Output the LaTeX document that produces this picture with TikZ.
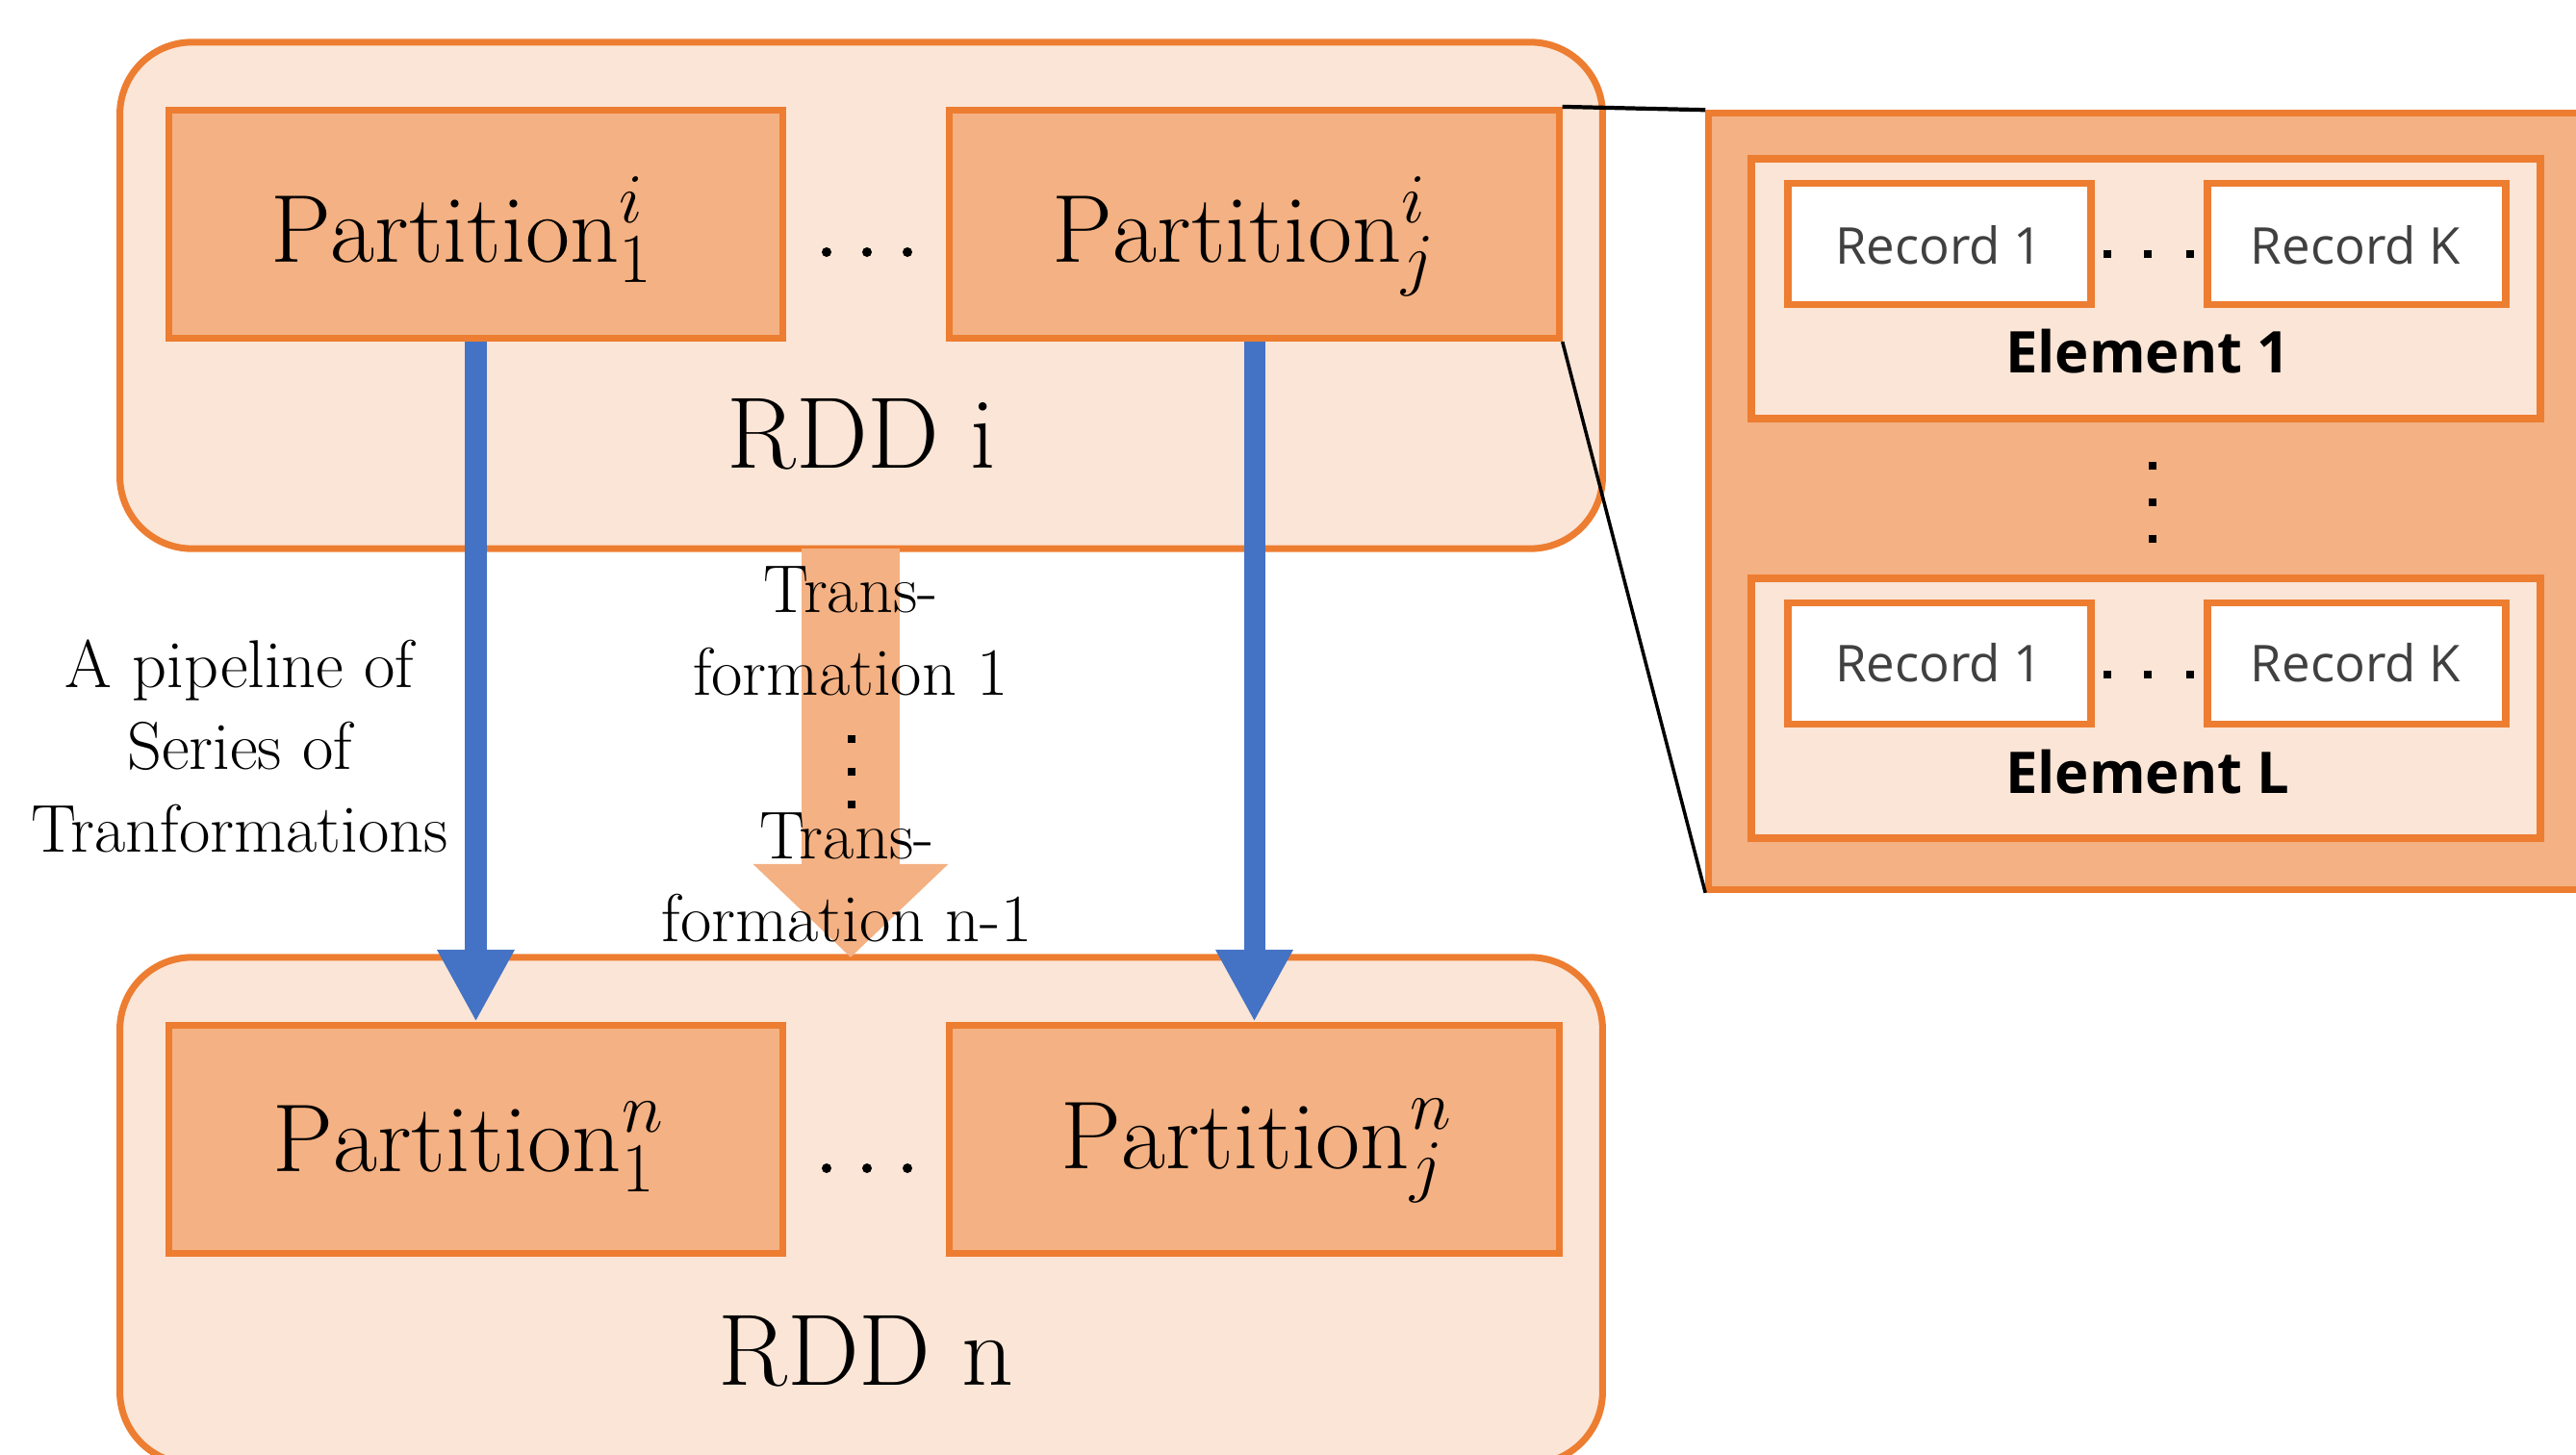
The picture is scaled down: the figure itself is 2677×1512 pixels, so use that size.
\documentclass[tikz,border=0pt]{standalone}
\usepackage{fontspec}
\newfontfamily\recfont{Open Sans}
\usetikzlibrary{arrows.meta}
\definecolor{olight}{HTML}{FBE5D6}
\definecolor{omed}{HTML}{F4B183}
\definecolor{oline}{HTML}{ED7D31}
\definecolor{blu}{HTML}{4472C4}
\definecolor{txtgray}{HTML}{404040}
\begin{document}
\begin{tikzpicture}[x=0.01cm,y=-0.01cm,
  rddbox/.style={draw=oline, fill=olight, line width=2pt, rounded corners=0.75cm, inner sep=0pt, minimum width=15.40cm, minimum height=5.26cm},
  partbox/.style={draw=oline, fill=omed, line width=2pt, inner sep=0pt, minimum height=2.37cm},
  panelbox/.style={draw=oline, fill=omed, line width=2pt, inner sep=0pt},
  elembox/.style={draw=oline, fill=olight, line width=2.2pt, inner sep=0pt, minimum width=8.2cm, minimum height=2.7cm},
  recbox/.style={draw=oline, fill=white, line width=2.2pt, inner sep=0pt, minimum height=1.26cm},
  ptext/.style={anchor=base, inner sep=0pt, font=\fontsize{28.5}{33}\selectfont},
  rddtext/.style={anchor=base, inner sep=0pt, font=\fontsize{30}{35}\selectfont},
  serlabel/.style={anchor=base, inner sep=0pt, align=center, font=\fontsize{20}{24.2}\selectfont},
  rectext/.style={anchor=base, inner sep=0pt, text=txtgray, font=\recfont\fontsize{15}{18}\selectfont},
  eltext/.style={anchor=base, inner sep=0pt, font=\recfont\bfseries\fontsize{17}{20}\selectfont},
  bluarrow/.style={blu, line width=0.22cm, -{Triangle[length=0.75cm,width=0.75cm]}},
  bigarrow/.style={omed, line width=1.01cm, -{Triangle[length=0.97cm,width=1.97cm]}},
  linkline/.style={black, line width=1.2pt}
]
\useasboundingbox (0,0) rectangle (2677,1512);

% RDD containers
\node[rddbox] (rddi) at (895,307) {};
\node[rddbox] (rddn) at (895,1258) {};

% partitions
\node[partbox, minimum width=6.37cm] (p1i) at (494.5,233) {};
\node[partbox, minimum width=6.33cm] (pji) at (1303.5,233) {};
\node[partbox, minimum width=6.37cm] (p1n) at (494.5,1184) {};
\node[partbox, minimum width=6.33cm] (pjn) at (1303.5,1184) {};

% right panel
\node[panelbox, minimum width=9.4cm, minimum height=8.06cm] (outer) at (2246,521) {};
\node[elembox] (el1) at (2230,300) {};
\node[elembox] (elL) at (2230,736) {};
\node[recbox, minimum width=3.15cm] (r11) at (2015.5,253.5) {};
\node[recbox, minimum width=3.10cm] (r1k) at (2449,253.5) {};
\node[recbox, minimum width=3.15cm] (rl1) at (2015.5,689.5) {};
\node[recbox, minimum width=3.10cm] (rlk) at (2449,689.5) {};

% link lines
\draw[linkline] (pji.north east) -- (outer.north west);
\draw[linkline, line width=1pt] (pji.south east) -- (outer.south west);

% transformation arrow
\coordinate (ta) at (884,570);
\coordinate (tb) at (884,995);
\draw[bigarrow] (ta) -- (tb);

% texts
\node[ptext] (t1i) at (480,272) {$\mathrm{Partition}_1^i$};
\node[ptext] (tji) at (1293,272) {$\mathrm{Partition}_j^i$};
\node[ptext] (t1n) at (487,1217) {$\mathrm{Partition}_1^n$};
\node[ptext] (tjn) at (1306,1214) {$\mathrm{Partition}_j^n$};
\foreach \xx in {859,901,943} {
  \fill (\xx,262) circle (5);
  \fill (\xx,1214) circle (5);
}
\node[rddtext] (lrddi) at (895,486) {RDD i};
\node[rddtext] (lrddn) at (900,1439) {RDD n};

\node[serlabel] (pipe) at (249,885) {A pipeline of\\Series of\\Tranformations};
\node[serlabel] (tr1) at (884,722) {Trans-\\formation 1};
\node[serlabel] (trn) at (880,978) {Trans-\\formation n-1};
\foreach \yy in {768,802,836} \fill (881,\yy-4) rectangle (889,\yy+4);

\node[rectext] (lr11) at (2015,274) {Record 1};
\node[rectext] (lr1k) at (2448,274) {Record K};
\node[rectext] (lrl1) at (2015,708) {Record 1};
\node[rectext] (lrlk) at (2448,708) {Record K};
\node[eltext] (le1) at (2232,387) {Element 1};
\node[eltext] (leL) at (2232,824) {Element L};
\foreach \xx in {2190,2232,2276} {
  \fill (\xx-4,260) rectangle (\xx+4,268);
  \fill (\xx-4,697) rectangle (\xx+4,705);
}
\foreach \yy in {484,522,560} \fill (2233,\yy-4) rectangle (2241,\yy+4);

% blue pipeline arrows
\draw[bluarrow] (p1i.south) -- (p1n.north);
\draw[bluarrow] (pji.south) -- (pjn.north);
\end{tikzpicture}
\end{document}
